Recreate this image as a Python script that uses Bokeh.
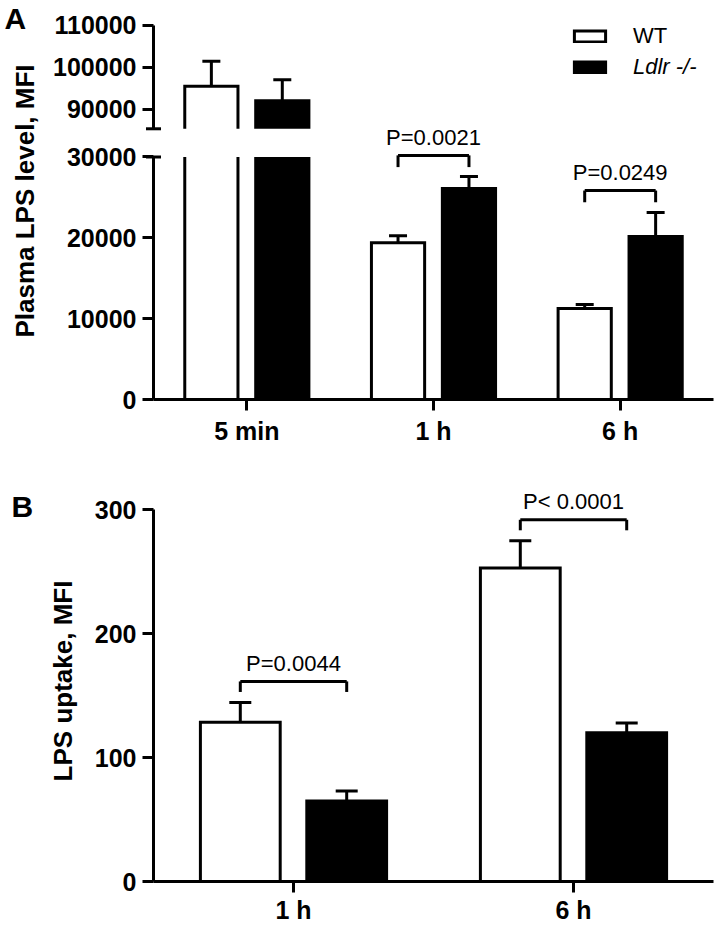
from bokeh.plotting import figure
from bokeh.models import (ColumnDataSource, Range1d, FactorRange, FixedTicker, Whisker,
                          TeeHead, BoxAnnotation, Legend, LegendItem)
from bokeh.transform import dodge
from bokeh.layouts import column
from bokeh.embed import file_html
from bokeh.resources import INLINE
from bokeh.core.properties import value

# ---------------- data ----------------
series_names = ["WT", "Ldlr -/-"]

A_groups = ["5 min", "1 h", "6 h"]
A_wt = [95500, 19400, 11250]
A_wt_err = [5950, 870, 500]
A_ko = [92100, 26100, 20150]
A_ko_err = [5000, 1480, 2970]
A_p_groups = ["1 h", "6 h"]
A_p_text = ["P=0.0021", "P=0.0249"]
A_p_y = [30200, 25850]
A_p_leg = 1450
A_yticks_low = [0, 10000, 20000, 30000]
A_yticks_up = [90000, 100000, 110000]

B_groups = ["1 h", "6 h"]
B_wt = [128.5, 253]
B_wt_err = [16, 22]
B_ko = [65, 120]
B_ko_err = [8, 8]
B_p_groups = ["1 h", "6 h"]
B_p_text = ["P=0.0044", "P< 0.0001"]
B_p_y = [161.5, 292]
B_p_leg = 8.5
B_yticks = [0, 100, 200, 300]

# ---------------- axis break of panel A ----------------
LOW_TOP = 30000      # top of the lower segment
UP_BOT = 85400       # bottom of the upper segment
UP_TOP = 110000      # top of the upper segment
GAP = 3490           # gap between the two segments (lower-segment units)
UP_RATIO = 0.5196    # scale of the upper segment relative to the lower one
PAD = 300            # bar pieces reach a little into the gap (hidden by it)


def brk(v):
    return v if v <= LOW_TOP else LOW_TOP + GAP + (v - UP_BOT) * UP_RATIO


FONT = "Liberation Sans"
OFF = 0.19
BAR_W = 0.285
LW = 3
P_OFFSET = -18


def style_axes(p, xstandoff):
    p.grid.grid_line_color = None
    p.outline_line_color = None
    p.background_fill_color = "white"
    for ax in (p.xaxis[0], p.yaxis[0]):
        ax.axis_line_width = LW
        ax.axis_line_color = "black"
        ax.major_tick_line_width = LW
        ax.major_tick_line_color = "black"
        ax.major_tick_in = 0
        ax.major_tick_out = 11
        ax.minor_tick_line_color = None
        ax.major_label_text_font = FONT
        ax.major_label_text_font_style = "bold"
        ax.major_label_text_font_size = "25px"
        ax.major_label_text_color = "black"
        ax.axis_label_text_font = FONT
        ax.axis_label_text_font_style = "bold"
        ax.axis_label_text_font_size = "26px"
        ax.axis_label_text_color = "black"
    p.xaxis.major_label_standoff = xstandoff
    p.yaxis.major_label_standoff = 6


# ======================= Panel A =======================
A_TOP_PX = 2
A_YMAX = 49113
pA = figure(width=717, height=459, x_range=FactorRange(*A_groups),
            y_range=Range1d(0, A_YMAX), output_backend="svg", toolbar_location=None,
            min_border_left=153, min_border_right=4, min_border_top=A_TOP_PX,
            min_border_bottom=60)
style_axes(pA, 6)

srcA = ColumnDataSource(dict(
    grp=A_groups,
    wt_low=[v if v <= LOW_TOP else LOW_TOP + PAD for v in A_wt],
    ko_low=[v if v <= LOW_TOP else LOW_TOP + PAD for v in A_ko],
    wt_top=[brk(v) for v in A_wt],
    wt_hi=[brk(v + e) for v, e in zip(A_wt, A_wt_err)],
    ko_top=[brk(v) for v in A_ko],
    ko_hi=[brk(v + e) for v, e in zip(A_ko, A_ko_err)],
))
wt_b = [(g, v) for g, v in zip(A_groups, A_wt) if v > LOW_TOP]
ko_b = [(g, v) for g, v in zip(A_groups, A_ko) if v > LOW_TOP]
srcA_wt_up = ColumnDataSource(dict(grp=[g for g, v in wt_b], top=[brk(v) for g, v in wt_b],
                                   bottom=[brk(UP_BOT) - PAD for g, v in wt_b]))
srcA_ko_up = ColumnDataSource(dict(grp=[g for g, v in ko_b], top=[brk(v) for g, v in ko_b],
                                   bottom=[brk(UP_BOT) - PAD for g, v in ko_b]))

bar_wt = dict(fill_color="white", line_color="black", line_width=LW, line_join="miter")
bar_ko = dict(fill_color="black", line_color="black", line_width=LW, line_join="miter")

rA_wt = pA.vbar(x=dodge("grp", -OFF, range=pA.x_range), top="wt_low", bottom=0,
                width=BAR_W, source=srcA, **bar_wt)
rA_ko = pA.vbar(x=dodge("grp", OFF, range=pA.x_range), top="ko_low", bottom=0,
                width=BAR_W, source=srcA, **bar_ko)
pA.vbar(x=dodge("grp", -OFF, range=pA.x_range), top="top", bottom="bottom",
        width=BAR_W, source=srcA_wt_up, **bar_wt)
pA.vbar(x=dodge("grp", OFF, range=pA.x_range), top="top", bottom="bottom",
        width=BAR_W, source=srcA_ko_up, **bar_ko)

for base, lo, hi in ((-OFF, "wt_top", "wt_hi"), (OFF, "ko_top", "ko_hi")):
    pA.add_layout(Whisker(source=srcA, base=dodge("grp", base, range=pA.x_range),
                          lower=lo, upper=hi, line_width=LW, line_color="black",
                          upper_head=TeeHead(size=18, line_width=LW, line_color="black"),
                          lower_head=None, level="glyph"))

# gap of the broken axis
pA.add_layout(BoxAnnotation(bottom=LOW_TOP, top=brk(UP_BOT), fill_color="white",
                            fill_alpha=1.0, line_alpha=0))

# broken y axis line
pA.yaxis.axis_line_color = None
pA.segment(x0=[0, 0], x1=[0, 0], y0=[0, brk(UP_BOT)], y1=[LOW_TOP, brk(UP_TOP)],
           line_width=LW, line_color="black", level="overlay")
pA.dash(x=[0, 0], y=[LOW_TOP, brk(UP_BOT)], size=15, line_width=LW,
        line_color="black", level="overlay")
A_tick_pos = A_yticks_low + [round(brk(t)) for t in A_yticks_up]
pA.yaxis.ticker = FixedTicker(ticks=A_tick_pos)
pA.yaxis.major_label_overrides = {round(brk(t)): str(t) for t in A_yticks_up}
pA.yaxis.axis_label = "Plasma LPS level, MFI"
pA.yaxis.axis_label_standoff = 10

# significance brackets
srcAp = ColumnDataSource(dict(grp=A_p_groups, y=A_p_y, yl=[y - A_p_leg for y in A_p_y],
                              txt=A_p_text))
br = dict(line_width=LW, line_color="black", level="overlay", source=srcAp)
pA.segment(x0=dodge("grp", -OFF, range=pA.x_range), x1=dodge("grp", OFF, range=pA.x_range),
           y0="y", y1="y", **br)
pA.segment(x0=dodge("grp", -OFF, range=pA.x_range), x1=dodge("grp", -OFF, range=pA.x_range),
           y0="y", y1="yl", **br)
pA.segment(x0=dodge("grp", OFF, range=pA.x_range), x1=dodge("grp", OFF, range=pA.x_range),
           y0="y", y1="yl", **br)
pA.text(x="grp", y="y", text="txt", source=srcAp, y_offset=P_OFFSET, text_align="center",
        text_baseline="alphabetic", text_font=value(FONT), text_font_size="22px",
        text_color="black", level="overlay")

leg_common = dict(glyph_width=39, glyph_height=14, label_standoff=24,
                  label_text_font=FONT, label_text_font_size="22px",
                  label_text_color="black",
                  border_line_color=None, background_fill_alpha=0, padding=0, margin=0)
pA.add_layout(Legend(items=[LegendItem(label=series_names[0], renderers=[rA_wt])],
                     location=(417, 350), **leg_common))
pA.add_layout(Legend(items=[LegendItem(label=series_names[1], renderers=[rA_ko])],
                     location=(417, 319), label_text_font_style="italic", **leg_common))

# panel letter
pA.text(x=[0], y=[A_YMAX], text=["A"], x_offset=-149, y_offset=16,
        text_align="left", text_baseline="alphabetic", text_font=value(FONT),
        text_font_style="bold", text_font_size="30px", text_color="black", level="overlay")

# ======================= Panel B =======================
B_TOP_PX = 21
B_YMAX = 323.7
pB = figure(width=717, height=467, x_range=FactorRange(*B_groups),
            y_range=Range1d(0, B_YMAX), output_backend="svg", toolbar_location=None,
            min_border_left=153, min_border_right=4, min_border_top=B_TOP_PX,
            min_border_bottom=45)
style_axes(pB, 3)
pB.yaxis.ticker = FixedTicker(ticks=B_yticks)
pB.yaxis.bounds = (0, 300)
pB.yaxis.axis_label = "LPS uptake, MFI"
pB.yaxis.axis_label_standoff = 14

srcB = ColumnDataSource(dict(
    grp=B_groups, wt=B_wt, ko=B_ko,
    wt_hi=[v + e for v, e in zip(B_wt, B_wt_err)],
    ko_hi=[v + e for v, e in zip(B_ko, B_ko_err)],
))
pB.vbar(x=dodge("grp", -OFF, range=pB.x_range), top="wt", bottom=0, width=BAR_W,
        source=srcB, **bar_wt)
pB.vbar(x=dodge("grp", OFF, range=pB.x_range), top="ko", bottom=0, width=BAR_W,
        source=srcB, **bar_ko)
for base, lo, hi in ((-OFF, "wt", "wt_hi"), (OFF, "ko", "ko_hi")):
    pB.add_layout(Whisker(source=srcB, base=dodge("grp", base, range=pB.x_range),
                          lower=lo, upper=hi, line_width=LW, line_color="black",
                          upper_head=TeeHead(size=22, line_width=LW, line_color="black"),
                          lower_head=None, level="glyph"))

srcBp = ColumnDataSource(dict(grp=B_p_groups, y=B_p_y, yl=[y - B_p_leg for y in B_p_y],
                              txt=B_p_text))
brb = dict(line_width=LW, line_color="black", level="overlay", source=srcBp)
pB.segment(x0=dodge("grp", -OFF, range=pB.x_range), x1=dodge("grp", OFF, range=pB.x_range),
           y0="y", y1="y", **brb)
pB.segment(x0=dodge("grp", -OFF, range=pB.x_range), x1=dodge("grp", -OFF, range=pB.x_range),
           y0="y", y1="yl", **brb)
pB.segment(x0=dodge("grp", OFF, range=pB.x_range), x1=dodge("grp", OFF, range=pB.x_range),
           y0="y", y1="yl", **brb)
pB.text(x="grp", y="y", text="txt", source=srcBp, y_offset=P_OFFSET, text_align="center",
        text_baseline="alphabetic", text_font=value(FONT), text_font_size="22px",
        text_color="black", level="overlay")

pB.text(x=[0], y=[B_YMAX], text=["B"], x_offset=-142, y_offset=26,
        text_align="left", text_baseline="alphabetic", text_font=value(FONT),
        text_font_style="bold", text_font_size="30px", text_color="black", level="overlay")

layout = column(pA, pB, spacing=0)
open("out.html", "w").write(file_html(layout, INLINE))
